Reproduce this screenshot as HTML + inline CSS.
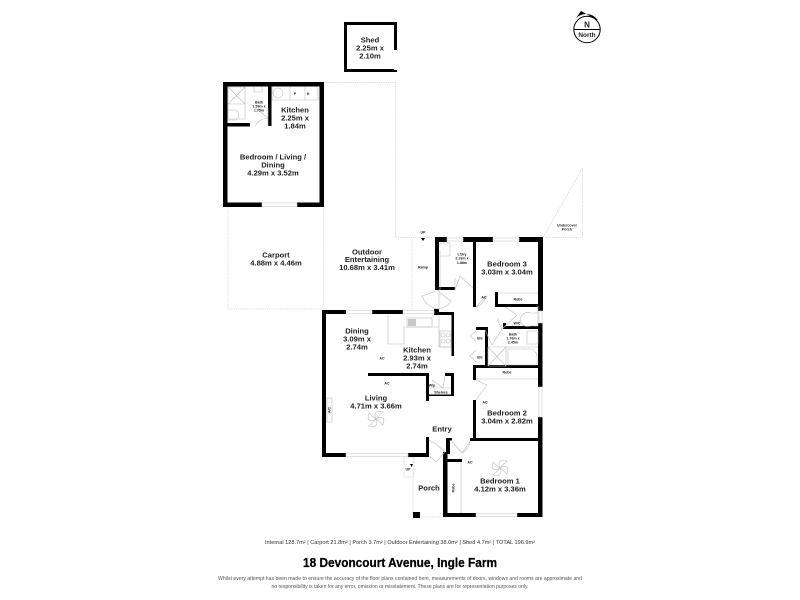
<!DOCTYPE html>
<html><head><meta charset="utf-8">
<style>
html,body{margin:0;padding:0;background:#fff;width:800px;height:600px;overflow:hidden}
svg{display:block}
text{font-family:"Liberation Sans",sans-serif;text-anchor:middle;fill:#222}
.r{font-size:7.6px;font-weight:bold}
.s{font-size:3.6px;font-weight:bold}
.d{fill:none;stroke:#cfcfcf;stroke-width:.7;stroke-dasharray:1.2 1}
.t{fill:none;stroke:#bcbcbc;stroke-width:.6}
</style></head><body>
<svg width="800" height="600" viewBox="0 0 800 600" xmlns="http://www.w3.org/2000/svg">
<!-- dashed outlines -->
<path class="d" d="M324 82.5H395.5V237.5H435M228 207V309H322M323.500 207V309M412 238V310M413 457V517H443M404 457H414V477H404ZM543 237.500H582.500V168L543 237.500"/>
<!-- walls -->
<g fill="#000">
<!-- shed -->
<path d="M344 22H397V50H394V25H347V69H394V70H397V72H344Z"/>
<!-- annex -->
<path d="M223 82H324V207H297V202.500H319.500V86.500H227.500V202.500H262V207H223Z"/>
<rect x="227" y="123" width="23" height="3.500"/>
<rect x="268" y="86" width="3.500" height="40"/>
<!-- main -->
<rect x="322" y="310" width="24" height="4"/>
<rect x="372" y="310" width="31" height="4"/>
<rect x="322" y="310" width="4" height="147"/>
<rect x="322" y="453" width="24" height="4"/>
<rect x="408" y="453" width="21" height="4"/>
<rect x="426" y="437" width="3" height="20"/>
<rect x="368" y="373" width="61" height="3"/>
<rect x="426" y="373" width="3" height="28"/>
<rect x="445" y="373" width="9" height="3"/>
<rect x="451" y="373" width="3" height="23"/>
<rect x="429" y="394.500" width="25" height="1.500"/>
<rect x="434" y="309" width="5" height="5"/>
<rect x="434" y="312" width="20" height="3"/>
<rect x="451.500" y="312" width="2.500" height="44"/>
<!-- north wing -->
<rect x="435" y="237" width="12" height="5"/>
<rect x="463" y="237" width="30" height="5"/>
<rect x="519" y="237" width="24" height="5"/>
<rect x="435" y="237" width="4" height="53"/>
<rect x="439" y="287" width="16" height="3"/>
<rect x="473" y="240" width="3" height="67"/>
<rect x="495" y="292" width="3" height="15"/>
<rect x="495" y="304" width="43" height="3"/>
<rect x="538" y="237" width="5" height="74"/>
<rect x="538" y="323" width="4.500" height="64"/>
<rect x="503" y="323" width="3" height="6"/>
<rect x="503" y="326" width="36" height="3"/>
<rect x="476" y="327" width="12" height="3"/>
<rect x="485" y="327" width="3" height="41"/>
<rect x="473" y="365" width="66" height="3"/>
<rect x="473" y="365" width="3" height="15"/>
<rect x="473" y="400" width="3" height="40"/>
<rect x="470" y="438" width="72" height="3"/>
<rect x="538" y="417" width="4.500" height="100"/>
<rect x="443" y="513" width="33" height="4"/>
<rect x="517" y="513" width="25.500" height="4"/>
<rect x="446" y="438" width="4" height="16"/>
<rect x="443" y="452" width="4.500" height="65"/>
<rect x="446" y="438" width="6" height="2.500"/>
<rect x="443" y="459" width="19" height="3"/>
<rect x="413" y="512" width="7" height="6"/>
<rect x="400" y="310" width="3" height="4"/>
</g>
<!-- windows -->
<g fill="none" stroke="#cfcfcf" stroke-width=".6">
<rect x="262" y="203" width="35" height="3.500"/>
<rect x="347" y="310.500" width="25" height="3"/>
<rect x="403" y="310.500" width="31" height="3"/>
<rect x="346" y="453.500" width="62" height="3"/>
<rect x="447" y="238" width="16" height="3"/>
<rect x="493" y="238" width="26" height="3"/>
<rect x="539" y="311" width="3" height="12"/>
<rect x="539" y="387" width="3" height="30"/>
<rect x="476" y="513.500" width="41" height="3"/>
</g>
<!-- doors, fittings -->
<g class="t">
<path class="t" d="M268 118L255 108M268 126V108M255 126A16 16 0 0 1 268 118"/>
<path class="t" d="M228 87H245V119H228ZM228 87L245 104M245 87L228 104M228 104H245"/>
<path class="t" d="M228 110H236A4.500 5.500 0 0 1 236 120H228"/>
<path class="t" d="M254 87V92H262V87M272 87V100H318V87M290 87V100M305 87V100"/>
<circle class="t" cx="278" cy="93" r="5"/>
<path class="t" d="M455 290L460 276L473 288M455 290V278"/>
<path class="t" d="M440 250V290M440 243H450V256H440"/>
<path class="t" d="M439 290L422 296A20 20 0 0 0 439 309ZM439 292L451 301A18 18 0 0 1 439 309"/>
<path class="t" d="M476 307L486 296A15 15 0 0 1 476 307"/>
<path class="t" d="M498 293H538"/>
<path class="t" d="M505 307L517 315L502 329A20 20 0 0 1 498 318"/>
<path class="t" d="M538 306V326H530A7 7 0 1 1 530 313H538"/>
<path class="t" d="M502 329L492 345L485 330"/>
<path class="t" d="M488 347H538M488 366V347M506 347V366H488M488 347L506 366M506 347L488 366"/>
<path class="t" d="M508 349H530A8 8 0 0 1 537 358V365H508Z"/>
<path class="t" d="M527 331H538V344H527Z"/>
<path class="t" d="M476 331L470 336L476 341M476 350L470 356L476 362"/>
<path class="t" d="M388 315V344H404V327H439V315M439 327V347H451"/>
<rect class="t" x="407" y="318" width="25" height="9"/>
<rect x="408" y="319" width="8" height="7" fill="#c8c8c8" stroke="none"/>
<rect class="t" x="440" y="331" width="11" height="16"/>
<circle class="t" cx="443" cy="335" r="2"/><circle class="t" cx="448" cy="335" r="2"/><circle class="t" cx="443" cy="341" r="2"/><circle class="t" cx="448" cy="341" r="2"/>
<path class="t" d="M445 376L443 388L432 380M429 388H451"/>
<rect class="t" x="327" y="398" width="5" height="24"/>
<path class="t" d="M476 380L487 385L476 400"/>
<path class="t" d="M476 379H538"/>
<path class="t" d="M429 440L436 444L445 452L436 462L429 456"/>
<path class="t" d="M451 440L462 453L470 441A15 15 0 0 1 462 453"/>
<path class="t" d="M461 462V513"/>
<g transform="translate(376 419)"><path class="t" d="M0 0C-2 -3 -1 -7 2 -8L7 -7C5 -5 2 -3 0 0C3 -2 6 -2 8 0L7 6C5 4 3 2 0 0C2 3 1 6 -2 8L-7 7C-5 5 -2 3 0 0C-3 2 -6 2 -8 0L-7 -6C-5 -4 -3 -2 0 0"/></g>
<g transform="translate(500 468)"><path class="t" d="M0 0C-2 -3 -1 -7 2 -8L7 -7C5 -5 2 -3 0 0C3 -2 6 -2 8 0L7 6C5 4 3 2 0 0C2 3 1 6 -2 8L-7 7C-5 5 -2 3 0 0C-3 2 -6 2 -8 0L-7 -6C-5 -4 -3 -2 0 0"/></g>
</g>
<!-- labels -->
<text class="r" x="370" y="42.500">Shed</text><text class="r" x="370" y="50.500">2.25m x</text><text class="r" x="370" y="58.500">2.10m</text>
<text class="r" x="295" y="112.500">Kitchen</text><text class="r" x="295" y="120.500">2.25m x</text><text class="r" x="295" y="128.500">1.84m</text>
<text class="r" x="273" y="159.500">Bedroom / Living /</text><text class="r" x="273" y="167.500">Dining</text><text class="r" x="273" y="175.500">4.29m x 3.52m</text>
<text class="s" x="259" y="103.500">Bath</text><text class="s" x="259" y="107.500">1.59m x</text><text class="s" x="259" y="111.500">1.75m</text>
<text class="s" x="295" y="95">P</text><text class="s" x="308" y="95">H</text>
<text class="r" x="276" y="257.500">Carport</text><text class="r" x="276" y="265.500">4.88m x 4.46m</text>
<text class="r" x="367" y="254.500">Outdoor</text><text class="r" x="367" y="262">Entertaining</text><text class="r" x="367" y="270">10.68m x 3.41m</text>
<text class="s" x="423" y="268.500">Ramp</text>
<text class="s" x="423" y="233.500">UP</text><path d="M421 238H425L423 241Z" fill="#000"/>
<text class="s" x="567" y="226.500">Undercover</text><text class="s" x="567" y="230.500">Porch</text>
<text class="s" x="462" y="255.500">L'Dry</text><text class="s" x="462" y="259.500">2.23m x</text><text class="s" x="462" y="264">1.88m</text>
<text class="r" x="507" y="266.500">Bedroom 3</text><text class="r" x="507" y="274.500">3.03m x 3.04m</text>
<text class="s" x="518" y="300.500">Robe</text><text class="s" x="484" y="298.500">AC</text>
<text class="s" x="517" y="324.500">W/C</text>
<text class="s" x="513" y="335.500">Bath</text><text class="s" x="513" y="339.500">1.76m x</text><text class="s" x="513" y="343.500">2.45m</text>
<text class="s" x="480" y="339.500">B/c</text><text class="s" x="480" y="358.500">B/c</text>
<text class="r" x="357" y="333.500">Dining</text><text class="r" x="357" y="341.500">3.09m x</text><text class="r" x="357" y="349.500">2.74m</text>
<text class="r" x="417" y="352.500">Kitchen</text><text class="r" x="417" y="360.500">2.93m x</text><text class="r" x="417" y="368.500">2.74m</text>
<text class="r" x="376" y="400.500">Living</text><text class="r" x="376" y="408.500">4.71m x 3.66m</text>
<text class="r" x="442" y="431.500">Entry</text>
<text class="s" x="432" y="386.500">W/p</text><text class="s" x="441" y="393.500">Shelves</text>
<text class="s" x="382" y="359.500">AC</text><text class="s" x="387" y="384.500">AC</text>
<text class="s" transform="translate(330.500 410) rotate(-90)">A/C</text>
<text class="r" x="507" y="415.500">Bedroom 2</text><text class="r" x="507" y="423.500">3.04m x 2.82m</text>
<text class="s" x="507" y="373.500">Robe</text><text class="s" x="485" y="403.500">AC</text>
<text class="r" x="500" y="483.500">Bedroom 1</text><text class="r" x="500" y="491.500">4.12m x 3.36m</text>
<text class="s" x="470" y="463.500">AC</text>
<text class="s" transform="translate(454.500 488) rotate(-90)">Robe</text>
<text class="r" x="429" y="490.500">Porch</text>
<text class="s" x="408" y="470.500">UP</text><path d="M410 464H413L411.500 467Z" fill="#000"/>
<!-- north -->
<path d="M574 21L581 11L598 20.500A14 14 0 0 0 574 21Z" fill="#000"/>
<circle cx="587" cy="29.500" r="13.200" fill="#fff" stroke="#000" stroke-width="1"/>
<path d="M574 29.500H600" stroke="#000" stroke-width="1"/>
<text x="587" y="27.500" style="font-size:8px;font-weight:bold">N</text>
<text x="587" y="37" style="font-size:6.500px;font-weight:bold">North</text>
<!-- footer -->
<text x="400" y="544" style="font-size:5px;fill:#333" textLength="270" lengthAdjust="spacingAndGlyphs">Internal 128.7m² | Carport 21.8m² | Porch 3.7m² | Outdoor Entertaining 38.0m² | Shed 4.7m² | TOTAL 196.9m²</text>
<text x="400" y="567" style="font-size:12.500px;font-weight:bold;fill:#000;stroke:#000;stroke-width:.25" textLength="194" lengthAdjust="spacingAndGlyphs">18 Devoncourt Avenue, Ingle Farm</text>
<text x="400" y="580" style="font-size:5px;fill:#555" textLength="364" lengthAdjust="spacingAndGlyphs">Whilst every attempt has been made to ensure the accuracy of the floor plans contained here, measurements of doors, windows and rooms are approximate and</text>
<text x="400" y="588" style="font-size:5px;fill:#555" textLength="257" lengthAdjust="spacingAndGlyphs">no responsibility is taken for any error, omission or misstatement. These plans are for representation purposes only.</text>
</svg>
</body></html>
